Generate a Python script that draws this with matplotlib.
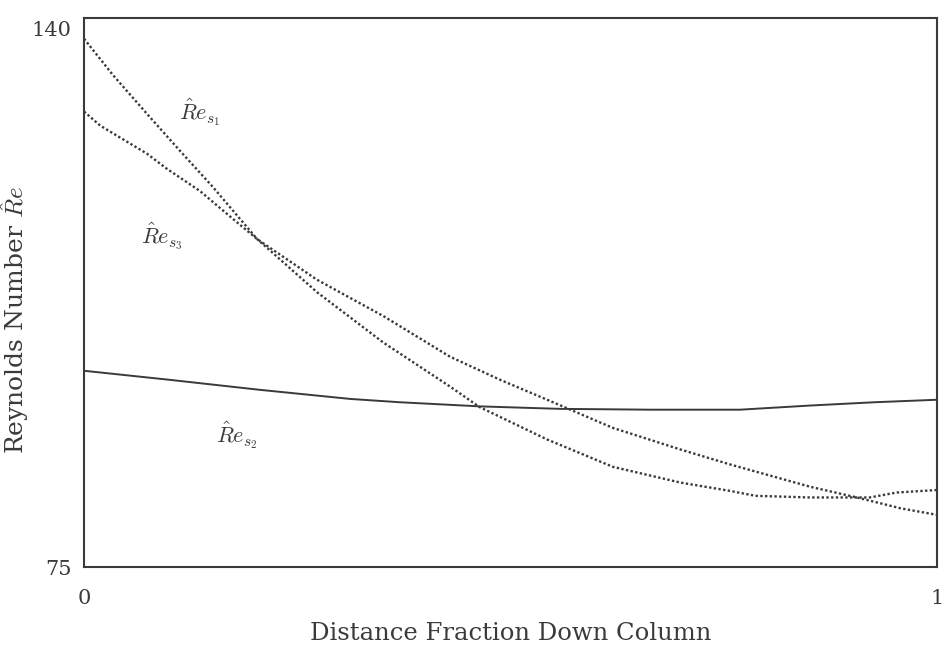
import numpy as np
import matplotlib
matplotlib.use('Agg')
from matplotlib import pyplot as plt

plt.rcParams['font.family'] = 'DejaVu Serif'
plt.rcParams['mathtext.fontset'] = 'cm'

# fraction of the way down the column
x_res1 = [0.000, 0.034, 0.074, 0.113, 0.151, 0.203, 0.273, 0.351, 0.429, 0.464,
          0.543, 0.620, 0.699, 0.757, 0.787, 0.851, 0.921, 0.953, 1.000]
res1 = [138.8, 134.4, 129.7, 125.2, 120.9, 114.6, 108.2, 102.1, 96.8, 94.3,
        90.4, 87.1, 85.2, 84.2, 83.6, 83.4, 83.4, 84.0, 84.3]

x_res3 = [0.000, 0.019, 0.074, 0.097, 0.136, 0.175, 0.203, 0.273, 0.351, 0.429,
          0.488, 0.543, 0.620, 0.699, 0.757, 0.851, 0.906, 0.957, 1.000]
res3 = [130.0, 128.3, 124.9, 123.1, 120.4, 117.0, 114.6, 109.7, 105.3, 100.4,
        97.6, 95.2, 91.8, 89.2, 87.4, 84.7, 83.4, 82.1, 81.3]

x_res2 = [0.000, 0.101, 0.206, 0.312, 0.370, 0.464, 0.558, 0.664, 0.769, 0.851,
          0.927, 1.000]
res2 = [98.7, 97.6, 96.4, 95.3, 94.9, 94.4, 94.1, 94.0, 94.0, 94.5, 94.9, 95.2]

fig = plt.figure(figsize=(9.42, 6.47), dpi=100)
ax = fig.add_axes([0.0892, 0.1236, 0.9055, 0.8486])

ink = '#3a3a3a'
ax.plot(x_res1, res1, color=ink, lw=1.7, linestyle=(0, (1.0, 1.0)))
ax.plot(x_res3, res3, color=ink, lw=1.7, linestyle=(0, (1.0, 1.0)))
ax.plot(x_res2, res2, color=ink, lw=1.4)

ax.text(0.136, 129.9, r'$\hat{R}e_{s_1}$', fontsize=16, color=ink, ha='center', va='center')
ax.text(0.091, 114.9, r'$\hat{R}e_{s_3}$', fontsize=16, color=ink, ha='center', va='center')
ax.text(0.179, 90.9, r'$\hat{R}e_{s_2}$', fontsize=16, color=ink, ha='center', va='center')

ax.set_xlim(0, 1)
ax.set_ylim(75, 141.3)
ax.set_xticks([0, 1])
ax.set_xticklabels(['0', '1'])
ax.set_yticks([75, 140])
ax.set_yticklabels(['75', '140'])
ax.tick_params(length=0, labelsize=15, colors=ink)
ax.tick_params(axis='x', pad=16)
ax.tick_params(axis='y', pad=9)
for s in ax.spines.values():
    s.set_color(ink)
    s.set_linewidth(1.5)

ax.set_xlabel('Distance Fraction Down Column', fontsize=17.5, color=ink)
ax.xaxis.set_label_coords(0.5, -0.1)
ax.set_ylabel(r'Reynolds Number $\hat{R}e$', fontsize=18, color=ink)
ax.yaxis.set_label_coords(-0.062, 0.45)

plt.savefig('out.png', dpi=100)
